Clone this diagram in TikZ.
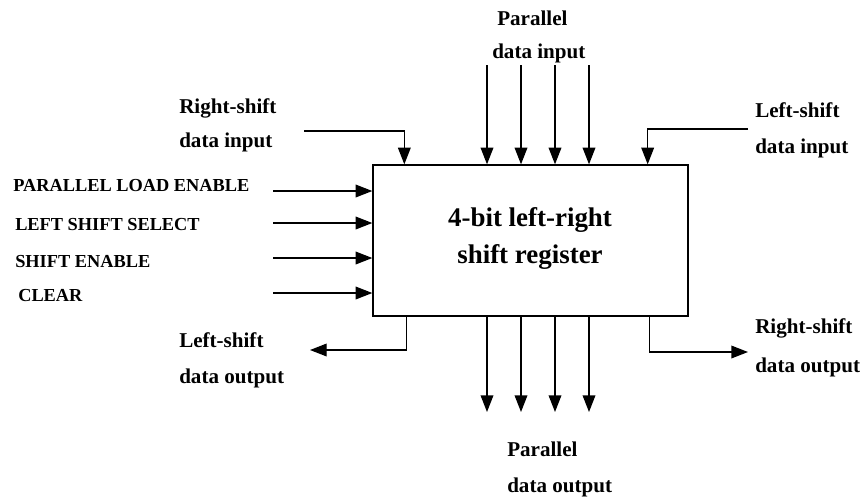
\documentclass[tikz,border=0pt]{standalone}
\usepackage{fontspec}
\setmainfont{Liberation Serif}
\usetikzlibrary{arrows.meta}
\tikzset{
  sigarr/.style   = {-{Triangle[length=12.5pt,width=9.5pt]},line width=1pt},
  pinlbl/.style   = {anchor=base west,inner sep=0pt,font=\bfseries\fontsize{15.8}{18}\selectfont},
  ctllbl/.style   = {anchor=base west,inner sep=0pt,font=\bfseries\fontsize{13.75}{16}\selectfont},
  boxlbl/.style   = {anchor=base,inner sep=0pt,font=\bfseries\fontsize{20.2}{24}\selectfont}
}

\begin{document}
\begin{tikzpicture}[x=0.75pt,y=-0.75pt]
  \useasboundingbox (0,0) rectangle (866,497);
  % the register block
  \node[draw,line width=1pt,minimum width=236.25pt,minimum height=113.25pt,inner sep=0pt] (reg) at (530.5,240.5) {};
  \node[boxlbl] (reg1) at (530,226) {4-bit left-right};
  \node[boxlbl] (reg2) at (530,263) {shift register};

  % parallel data in and out
  \foreach \x [count=\i] in {487,521,555,589} {
    \coordinate (pin\i)  at (\x,65);
    \coordinate (pout\i) at (\x,412);
    \draw[sigarr] (pin\i) -- (pin\i |- reg.north);
    \draw[sigarr] (pin\i |- reg.south) -- (pout\i);
  }
  \node[pinlbl] (pinA) at (497,25) {Parallel};
  \node[pinlbl] (pinB) at (492,58) {data input};
  \node[pinlbl] (poutA) at (507,456) {Parallel};
  \node[pinlbl] (poutB) at (507,492) {data output};

  % serial inputs
  \coordinate (rsin) at (304,131);
  \coordinate (lsin) at (748,129);
  \draw[sigarr] (rsin) -| ([xshift=24pt]reg.north west);
  \draw[sigarr] (lsin) -| ([xshift=-30.75pt]reg.north east);
  \node[pinlbl] (rsinA) at (179,113) {Right-shift};
  \node[pinlbl] (rsinB) at (179,147) {data input};
  \node[pinlbl] (lsinA) at (755,117) {Left-shift};
  \node[pinlbl] (lsinB) at (755,153) {data input};

  % serial outputs
  \coordinate (lsout) at (310,350);
  \coordinate (rsout) at (748,352);
  \draw[sigarr] ([xshift=25.5pt]reg.south west) |- (lsout);
  \draw[sigarr] ([xshift=-29.25pt]reg.south east) |- (rsout);
  \node[pinlbl] (lsoutA) at (179,347) {Left-shift};
  \node[pinlbl] (lsoutB) at (179,383) {data output};
  \node[pinlbl] (rsoutA) at (755,333) {Right-shift};
  \node[pinlbl] (rsoutB) at (755,372) {data output};

  % control lines
  \foreach \y/\lx/\ly/\txt [count=\i] in {191/13/191/PARALLEL LOAD ENABLE,
      223/15/230/LEFT SHIFT SELECT, 258/15/267/SHIFT ENABLE, 293/18/301/CLEAR} {
    \coordinate (ctl\i) at (273,\y);
    \draw[sigarr] (ctl\i) -- (ctl\i -| reg.west);
    \node[ctllbl] (ctllbl\i) at (\lx,\ly) {\txt};
  }
\end{tikzpicture}
\end{document}
